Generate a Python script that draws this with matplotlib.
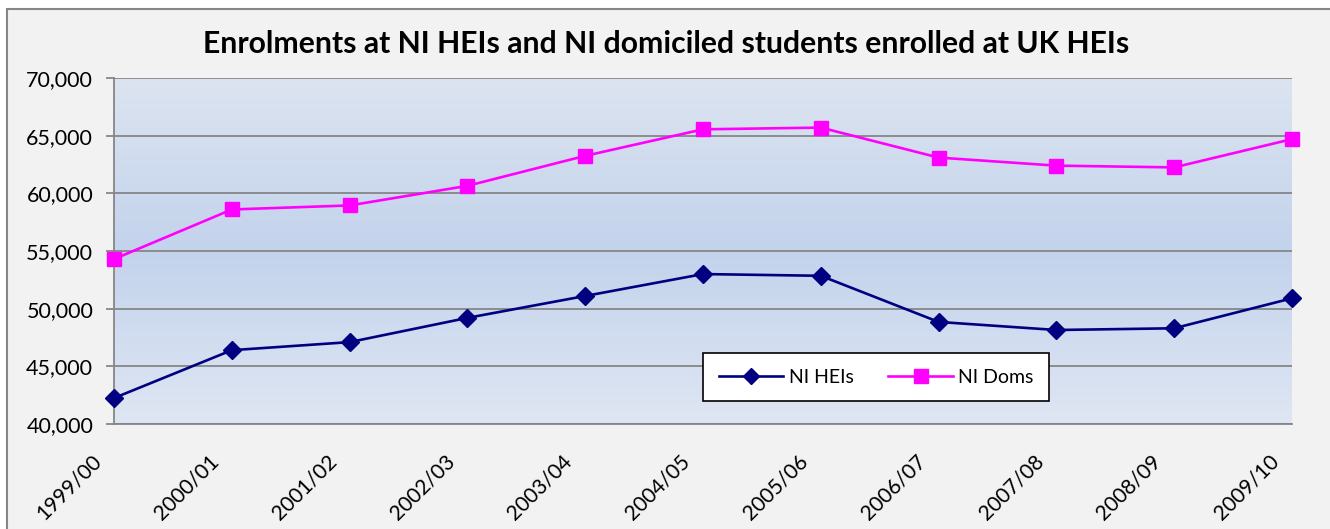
import matplotlib
matplotlib.use("Agg")
import matplotlib.pyplot as plt
import numpy as np
from matplotlib.patches import Rectangle
from matplotlib.colors import LinearSegmentedColormap
from matplotlib.ticker import FuncFormatter
from matplotlib.transforms import ScaledTranslation

years = ["1999/00", "2000/01", "2001/02", "2002/03", "2003/04", "2004/05",
         "2005/06", "2006/07", "2007/08", "2008/09", "2009/10"]
ni_heis = [42250, 46400, 47100, 49200, 51100, 53000, 52850, 48850, 48150, 48300, 50900]
ni_doms = [54300, 58600, 58950, 60650, 63250, 65550, 65700, 63100, 62400, 62250, 64700]
y_ticks = [40000, 45000, 50000, 55000, 60000, 65000, 70000]

plt.rcParams['font.family'] = ['Lato', 'DejaVu Sans']

W, H = 1330, 529
DPI = 100
fig = plt.figure(figsize=(W / DPI, H / DPI), dpi=DPI)
fig.patch.set_facecolor('white')
# outer chart area
fig.patches.append(Rectangle((7 / W, -0.01), 1.05, (H - 9) / H + 0.01, transform=fig.transFigure,
                             facecolor='#F2F2F2', edgecolor='#868686', linewidth=1.5,
                             zorder=-5))

ax = fig.add_axes([114 / W, (H - 424) / H, 1178 / W, 346 / H])
ax.set_facecolor('none')

# gradient background
cmap = LinearSegmentedColormap.from_list('g', [(0, '#DFE6F3'), (0.5, '#C3D3EC'), (1, '#DCE4F0')])
grad = np.linspace(0, 1, 256).reshape(-1, 1)
ax.imshow(grad, cmap=cmap, aspect='auto', extent=[0, 1, 0, 1], transform=ax.transAxes,
          zorder=0, origin='lower')

x = np.arange(len(years))
ax.plot(x, ni_heis, color='#000080', marker='D', markersize=9.5, linewidth=1.9,
        label='NI HEIs', zorder=3, clip_on=False)
ax.plot(x, ni_doms, color='#FF00FF', marker='s', markersize=10.5, linewidth=1.9,
        label='NI Doms', zorder=3, clip_on=False)

ax.set_xlim(0, len(years) - 1)
ax.set_ylim(40000, 70000)
ax.set_yticks(y_ticks)
ax.yaxis.set_major_formatter(FuncFormatter(lambda v, p: f"{int(v):,}"))
ax.grid(axis='y', color='#868686', linewidth=1.3, zorder=1)
ax.set_axisbelow(False)
for s in ['top', 'right']:
    ax.spines[s].set_visible(False)
ax.spines['left'].set_color('#868686')
ax.spines['bottom'].set_color('#868686')
ax.spines['left'].set_linewidth(1.3)
ax.spines['bottom'].set_linewidth(1.3)
ax.tick_params(axis='y', length=6, color='#868686', width=1.3, labelsize=15.5, pad=9)
ax.tick_params(axis='x', length=0, labelsize=15, pad=5)
ax.set_xticks(x)
ax.set_xticklabels(years, rotation=45, ha='right', rotation_mode='anchor')

fig.text(666 / W, 1 - 44 / H, 'Enrolments at NI HEIs and NI domiciled students enrolled at UK HEIs',
         ha='center', va='center', fontsize=21.7, fontweight='bold', color='black')

leg = ax.legend(loc='lower left', bbox_to_anchor=(0.5, 0.066), ncol=2, frameon=True,
                fancybox=False, fontsize=14, handlelength=3.3, handletextpad=0.3,
                columnspacing=1.8, borderpad=0.8, borderaxespad=0, markerscale=0.9)
leg.get_frame().set_edgecolor('black')
leg.get_frame().set_facecolor('white')
leg.get_frame().set_linewidth(1.2)
leg.get_frame().set_alpha(1)

# size and place rotated x labels to match the reference layout
fig.canvas.draw()
renderer = fig.canvas.get_renderer()
labels = ax.get_xticklabels()
bb0 = labels[0].get_window_extent(renderer)
new_size = 15 * 73.0 / bb0.width
for lbl in labels:
    lbl.set_fontsize(new_size)
fig.canvas.draw()
renderer = fig.canvas.get_renderer()
for lbl, xi in zip(ax.get_xticklabels(), x):
    bb = lbl.get_window_extent(renderer)
    tx, ty = ax.transData.transform((xi, 40000))
    dx = (tx - 9) - bb.x1
    dy = (ty - 27) - bb.y1
    lbl.set_transform(lbl.get_transform() + ScaledTranslation(dx / DPI, dy / DPI, fig.dpi_scale_trans))

fig.savefig('out.png', dpi=DPI, facecolor=fig.get_facecolor())
